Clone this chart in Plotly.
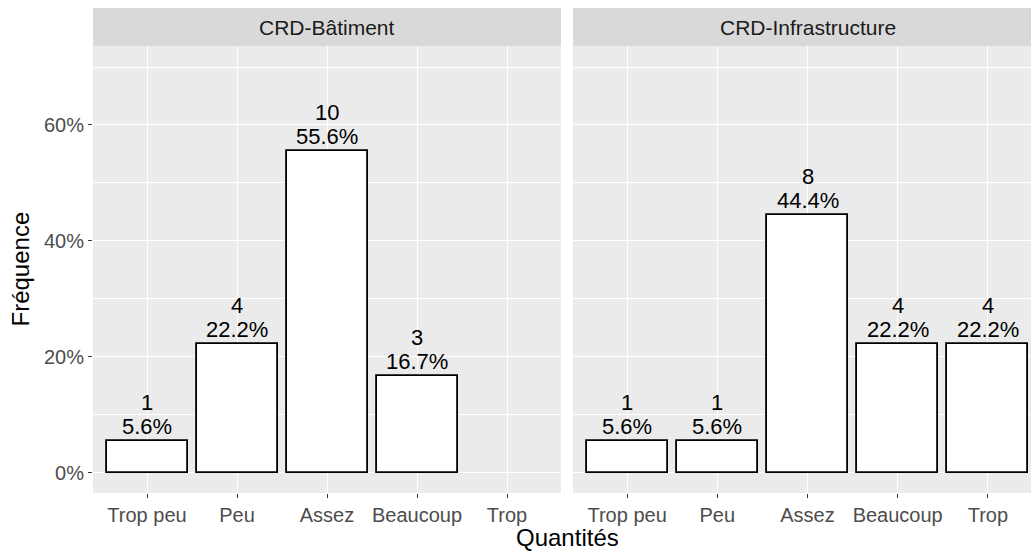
import plotly.graph_objects as go

categories = ["Trop peu", "Peu", "Assez", "Beaucoup", "Trop"]
panel_names = ["CRD-Bâtiment", "CRD-Infrastructure"]
batiment_cats = ["Trop peu", "Peu", "Assez", "Beaucoup"]
batiment_counts = [1, 4, 10, 3]
infra_cats = ["Trop peu", "Peu", "Assez", "Beaucoup", "Trop"]
infra_counts = [1, 1, 8, 4, 4]
total_n = 18
y_ticks = [0, 0.2, 0.4, 0.6]
y_ticklabels = ["0%", "20%", "40%", "60%"]

W, H = 1031, 551
ML, MR, MT, MB = 93, 0, 8, 58
plot_w = W - ML - MR
plot_h = H - MT - MB
strip_h = 38
panel_h = plot_h - strip_h
ytop = panel_h / plot_h
left_dom = [0, (561 - ML) / plot_w]
right_dom = [(573 - ML) / plot_w, 1]
unit = 90.25
right_cut = (1042 - 1031) / unit

FONT = "Liberation Sans, Arial, sans-serif"
LABEL_SIZE = 22

def bar(cats, counts, xa, ya):
    frac = [c / total_n for c in counts]
    return go.Bar(
        x=cats, y=frac, xaxis=xa, yaxis=ya, width=0.9,
        marker=dict(color="white", line=dict(color="black", width=1.8)),
        showlegend=False, hoverinfo="skip",
    )

def labels(cats, counts, xa, ya):
    out = []
    for c, n in zip(cats, counts):
        f = n / total_n
        out.append(dict(text=f"{100 * f:.1f}%", x=c, y=f, xref=xa, yref=ya,
                        xanchor="center", yanchor="bottom", yshift=0, showarrow=False,
                        font=dict(family=FONT, size=LABEL_SIZE, color="black")))
        out.append(dict(text=f"{n}", x=c, y=f, xref=xa, yref=ya,
                        xanchor="center", yanchor="bottom", yshift=24, showarrow=False,
                        font=dict(family=FONT, size=LABEL_SIZE, color="black")))
    return out

fig = go.Figure()
fig.add_trace(bar(batiment_cats, batiment_counts, "x", "y"))
fig.add_trace(bar(infra_cats, infra_counts, "x2", "y2"))

common_x = dict(
    type="category", categoryorder="array", categoryarray=categories,
    showgrid=True, gridcolor="white", gridwidth=1.4, zeroline=False,
    ticks="outside", ticklen=4, tickwidth=1.1, tickcolor="#333333",
    tickfont=dict(family=FONT, size=20, color="#4D4D4D"), showline=False,
)
common_y = dict(
    range=[-0.0345, 0.7362], tickvals=y_ticks, ticktext=y_ticklabels,
    showgrid=True, gridcolor="white", gridwidth=1.4, zeroline=False,
    minor=dict(dtick=0.1, tick0=0, showgrid=True, gridcolor="white", gridwidth=0.7, ticks=""),
    domain=[0, ytop], showline=False,
)
fig.update_layout(
    width=W, height=H,
    margin=dict(l=ML, r=MR, t=MT, b=MB, pad=0),
    paper_bgcolor="white", plot_bgcolor="#EBEBEB",
    bargap=0,
    xaxis=dict(domain=left_dom, range=[-0.6, 4.6], anchor="y", **common_x),
    xaxis2=dict(domain=right_dom, range=[-0.6, 4.6 - right_cut], anchor="y2", **common_x),
    yaxis=dict(anchor="x", ticks="outside", ticklen=4, tickwidth=1.1, tickcolor="#333333",
               tickfont=dict(family=FONT, size=20, color="#4D4D4D"), **common_y),
    yaxis2=dict(anchor="x2", showticklabels=False, ticks="", matches="y", **common_y),
)

shapes = []
annotations = labels(batiment_cats, batiment_counts, "x", "y") + labels(infra_cats, infra_counts, "x2", "y2")
for name, dom in zip(panel_names, [left_dom, [right_dom[0], right_dom[0] + (1042 - 573) / plot_w]]):
    shapes.append(dict(type="rect", xref="paper", yref="paper", x0=dom[0], x1=min(dom[1], 1.0),
                       y0=ytop, y1=1, fillcolor="#D9D9D9", line=dict(width=0), layer="below"))
    annotations.append(dict(text=name, xref="paper", yref="paper", x=(dom[0] + dom[1]) / 2,
                            y=(ytop + 1) / 2, xanchor="center", yanchor="middle", showarrow=False,
                            font=dict(family=FONT, size=21, color="#1A1A1A")))

annotations.append(dict(text="Quantités", xref="paper", yref="paper",
                        x=((1042 + 93) / 2 - ML) / plot_w, y=-(537 - (H - MB)) / plot_h,
                        xanchor="center", yanchor="middle", showarrow=False,
                        font=dict(family=FONT, size=24, color="black")))
annotations.append(dict(text="Fréquence", xref="paper", yref="paper",
                        x=(20 - ML) / plot_w, y=ytop / 2, textangle=-90,
                        xanchor="center", yanchor="middle", showarrow=False,
                        font=dict(family=FONT, size=24, color="black")))
fig.update_layout(shapes=shapes, annotations=annotations)

fig.write_html("out.html", config={"displayModeBar": False},
               post_script="document.body.style.margin='0px';document.body.style.overflow='hidden';")
